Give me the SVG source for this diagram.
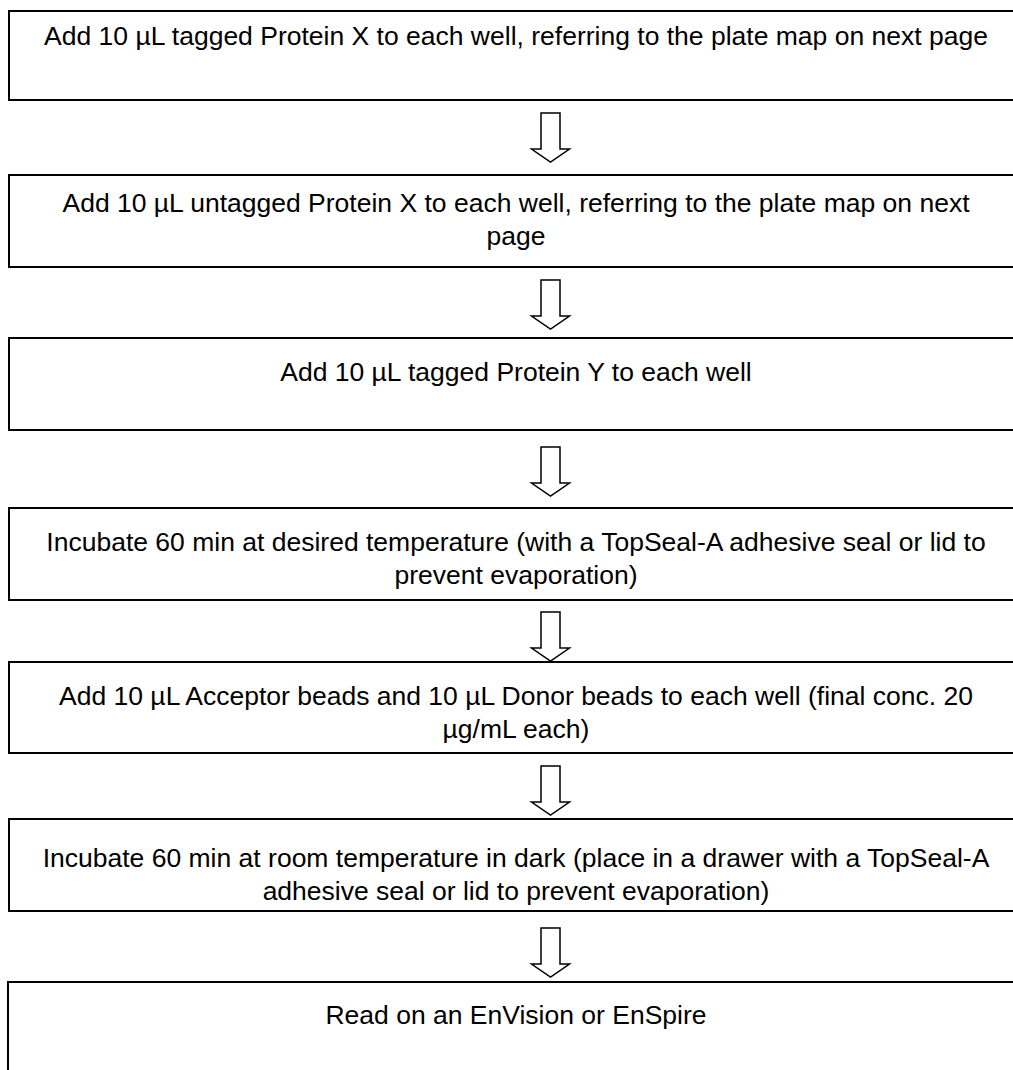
<svg xmlns="http://www.w3.org/2000/svg" xmlns:xlink="http://www.w3.org/1999/xlink" width="1013" height="1070" viewBox="0 0 1013 1070">
  <style>
    .box { fill: #ffffff; stroke: #000000; stroke-width: 2; }
    .lbl { font-family: "Liberation Sans", Arial, Helvetica, sans-serif; font-size: 26.5px; fill: #000000; text-anchor: middle; }
    .arrow { fill: #ffffff; stroke: #000000; stroke-width: 1.5; stroke-linejoin: miter; }
  </style>
  <defs>
    <!-- hollow block arrow pointing down, origin at top centre of the shaft -->
    <path id="downArrow" class="arrow" d="M -9.5 0 L 9.5 0 L 9.5 36 L 19 36 L 0 49 L -19 36 L -9.5 36 Z"/>
  </defs>
  <rect width="1013" height="1070" fill="#ffffff"/>

  <g id="step1">
    <rect class="box" x="9" y="11" width="1020" height="89"/>
    <text class="lbl" x="516" y="45">Add 10 µL tagged Protein X to each well, referring to the plate map on next page</text>
  </g>
  <g id="step2">
    <rect class="box" x="9" y="175" width="1020" height="92"/>
    <text class="lbl" x="516" y="212">Add 10 µL untagged Protein X to each well, referring to the plate map on next</text>
    <text class="lbl" x="516" y="245">page</text>
  </g>
  <g id="step3">
    <rect class="box" x="9" y="338" width="1020" height="92"/>
    <text class="lbl" x="516" y="381">Add 10 µL tagged Protein Y to each well</text>
  </g>
  <g id="step4">
    <rect class="box" x="9" y="508" width="1020" height="92"/>
    <text class="lbl" x="516" y="551">Incubate 60 min at desired temperature (with a TopSeal-A adhesive seal or lid to</text>
    <text class="lbl" x="516" y="584">prevent evaporation)</text>
  </g>
  <g id="step5">
    <rect class="box" x="9" y="662" width="1020" height="91"/>
    <text class="lbl" x="516" y="705">Add 10 µL Acceptor beads and 10 µL Donor beads to each well (final conc. 20</text>
    <text class="lbl" x="516" y="738">µg/mL each)</text>
  </g>
  <g id="step6">
    <rect class="box" x="9" y="819" width="1020" height="92"/>
    <text class="lbl" x="516" y="867">Incubate 60 min at room temperature in dark (place in a drawer with a TopSeal-A</text>
    <text class="lbl" x="516" y="900">adhesive seal or lid to prevent evaporation)</text>
  </g>
  <g id="step7">
    <rect class="box" x="8" y="982" width="1020" height="120"/>
    <text class="lbl" x="516" y="1024">Read on an EnVision or EnSpire</text>
  </g>

  <g id="connectors">
    <use xlink:href="#downArrow" x="550.5" y="113"/>
    <use xlink:href="#downArrow" x="550.5" y="280"/>
    <use xlink:href="#downArrow" x="550.5" y="447"/>
    <use xlink:href="#downArrow" x="550.5" y="612"/>
    <use xlink:href="#downArrow" x="550.5" y="766"/>
    <use xlink:href="#downArrow" x="550.5" y="928"/>
  </g>
</svg>
